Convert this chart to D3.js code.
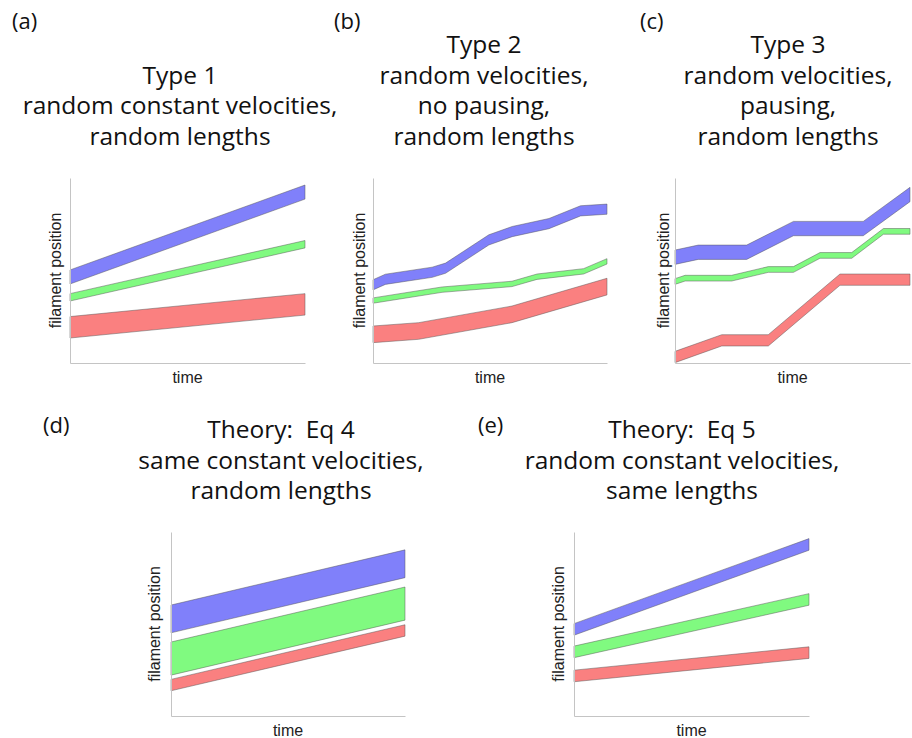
<!DOCTYPE html>
<html>
<head>
<meta charset="utf-8">
<script src="https://cdn.jsdelivr.net/npm/d3@7"></script>
<style>
    body { margin: 0; background: #fff; }
    .title { font-family: "Open Sans", "Noto Sans", sans-serif; font-size: 24.5px; fill: #111; white-space: pre; }
    .panel-label { font-family: "Open Sans", "Noto Sans", sans-serif; font-size: 22px; fill: #111; }
    .axis-label { font-family: "Liberation Sans", Arial, sans-serif; font-size: 16px; fill: #222; }
    .band { stroke: #555; stroke-width: 0.6; stroke-opacity: 0.8; }
</style>
</head>
<body>
<svg id="fig" width="912" height="738"></svg>
<script>
// Filament position vs time, five panels
// values are lower edge of each filament (0..100 of axis height), time 0..1

// (a) Type 1
const titleA = ["Type 1", "random constant velocities,", "random lengths"];
const timeA = [0, 1];
const blueA = [42.7, 88.6];
const greenA = [33.5, 62.2];
const redA = [13.5, 25.9];
const lengthsA = [7.6, 4.0, 11.6]; // blue, green, red

// (b) Type 2
const titleB = ["Type 2", "random velocities,", "no pausing,", "random lengths"];
const blueTimeB = [0, 0.053, 0.253, 0.31, 0.495, 0.595, 0.752, 0.887, 1.0];
const blueB = [39.5, 42.5, 46.3, 48.5, 63.8, 68.3, 72.6, 79.5, 80.4];
const greenTimeB = [0, 0.295, 0.594, 0.701, 0.9, 1.0];
const greenB = [32.3, 38.2, 41.3, 45.2, 48.1, 53.5];
const redTimeB = [0, 0.195, 0.594, 1.0];
const redB = [11.0, 12.8, 21.8, 36.8];
const lengthsB = [5.5, 2.9, 9.0];

// (c) Type 3
const titleC = ["Type 3", "random velocities,", "pausing,", "random lengths"];
const blueTimeC = [0, 0.099, 0.305, 0.504, 0.801, 1.0];
const blueC = [53.3, 56.0, 56.0, 68.8, 68.8, 87.2];
const greenTimeC = [0, 0.043, 0.241, 0.397, 0.504, 0.617, 0.752, 0.887, 1.0];
const greenC = [42.5, 44.3, 44.3, 49.0, 49.0, 56.6, 56.6, 69.6, 69.6];
const redTimeC = [0, 0.199, 0.397, 0.702, 1.0];
const redC = [0.2, 9.2, 9.2, 42.0, 42.0];
const lengthsC = [7.75, 3.1, 6.1];

// (d) Theory: Eq 4
const titleD = ["Theory:  Eq 4", "same constant velocities,", "random lengths"];
const timeD = [0, 1];
const blueD = [45.2, 75.2];
const greenD = [22.2, 52.1];
const redD = [13.7, 43.4];
const lengthsD = [15.1, 18.0, 6.2];

// (e) Theory: Eq 5
const titleE = ["Theory:  Eq 5", "random constant velocities,", "same lengths"];
const timeE = [0, 1];
const blueE = [43.9, 90.1];
const greenE = [31.7, 60.2];
const redE = [18.6, 31.3];
const lengthsE = [6.3, 6.3, 6.3];

const bandColors = ["#8080fa", "#80fa80", "#fa8080"];

const svg = d3.select("#fig");

function drawPanel(p) {
    const x = d3.scaleLinear().domain([0, 1]).range([p.x0, p.x1]);
    const y = d3.scaleLinear().domain([0, 100]).range([p.yb, p.yt]);

    const g = svg.append("g");

    // bands: red first, blue on top
    const bands = p.series.map((s, i) => ({
        pts: s.time.map((t, k) => ({ t: t, v: s.vals[k] })),
        len: p.lengths[i],
        color: bandColors[i]
    })).reverse();

    const area = d3.area()
        .x(d => x(d.t));

    bands.forEach(b => {
        area.y0(d => y(d.v)).y1(d => y(d.v + b.len));
        g.append("path")
            .attr("class", "band")
            .attr("d", area(b.pts))
            .attr("fill", b.color);
    });

    // axes, no ticks
    const ax = g.append("g")
        .attr("transform", `translate(0,${p.yb})`)
        .call(d3.axisBottom(x).ticks(0).tickSizeOuter(0));
    const ay = g.append("g")
        .attr("transform", `translate(${p.x0},0)`)
        .call(d3.axisLeft(y).ticks(0).tickSizeOuter(0));
    [ax, ay].forEach(a => a.select(".domain").attr("stroke", "#c4c4c4").attr("stroke-width", 1));

    g.append("text")
        .attr("class", "axis-label")
        .attr("text-anchor", "middle")
        .attr("x", (p.x0 + p.x1) / 2)
        .attr("y", p.yb + 20)
        .text("time");

    g.append("text")
        .attr("class", "axis-label")
        .attr("text-anchor", "middle")
        .attr("transform", `translate(${p.x0 - p.yLabelOff},${(p.yt + p.yb) / 2}) rotate(-90)`)
        .text("filament position");

    // title lines
    p.title.forEach((line, i) => {
        g.append("text")
            .attr("class", "title")
            .attr("text-anchor", "middle")
            .attr("x", p.tx)
            .attr("y", p.ty + i * 30.7)
            .text(line);
    });

    g.append("text")
        .attr("class", "panel-label")
        .attr("x", p.lx)
        .attr("y", p.ly)
        .text(p.label);
}

const panels = [
    { label: "(a)", lx: 12, ly: 29, title: titleA, tx: 180, ty: 83.6,
      x0: 70, x1: 305, yt: 178, yb: 363, yLabelOff: 9,
      series: [{ time: timeA, vals: blueA }, { time: timeA, vals: greenA }, { time: timeA, vals: redA }],
      lengths: lengthsA },
    { label: "(b)", lx: 334, ly: 29, title: titleB, tx: 484, ty: 53,
      x0: 373, x1: 607, yt: 178, yb: 363, yLabelOff: 8,
      series: [{ time: blueTimeB, vals: blueB }, { time: greenTimeB, vals: greenB }, { time: redTimeB, vals: redB }],
      lengths: lengthsB },
    { label: "(c)", lx: 640, ly: 29, title: titleC, tx: 788, ty: 53,
      x0: 675, x1: 910, yt: 178, yb: 363, yLabelOff: 6,
      series: [{ time: blueTimeC, vals: blueC }, { time: greenTimeC, vals: greenC }, { time: redTimeC, vals: redC }],
      lengths: lengthsC },
    { label: "(d)", lx: 43, ly: 433, title: titleD, tx: 281, ty: 438,
      x0: 171, x1: 405, yt: 532, yb: 716, yLabelOff: 11,
      series: [{ time: timeD, vals: blueD }, { time: timeD, vals: greenD }, { time: timeD, vals: redD }],
      lengths: lengthsD },
    { label: "(e)", lx: 478, ly: 433, title: titleE, tx: 682, ty: 438,
      x0: 574, x1: 809, yt: 532, yb: 716, yLabelOff: 10,
      series: [{ time: timeE, vals: blueE }, { time: timeE, vals: greenE }, { time: timeE, vals: redE }],
      lengths: lengthsE }
];

panels.forEach(drawPanel);
</script>
</body>
</html>
